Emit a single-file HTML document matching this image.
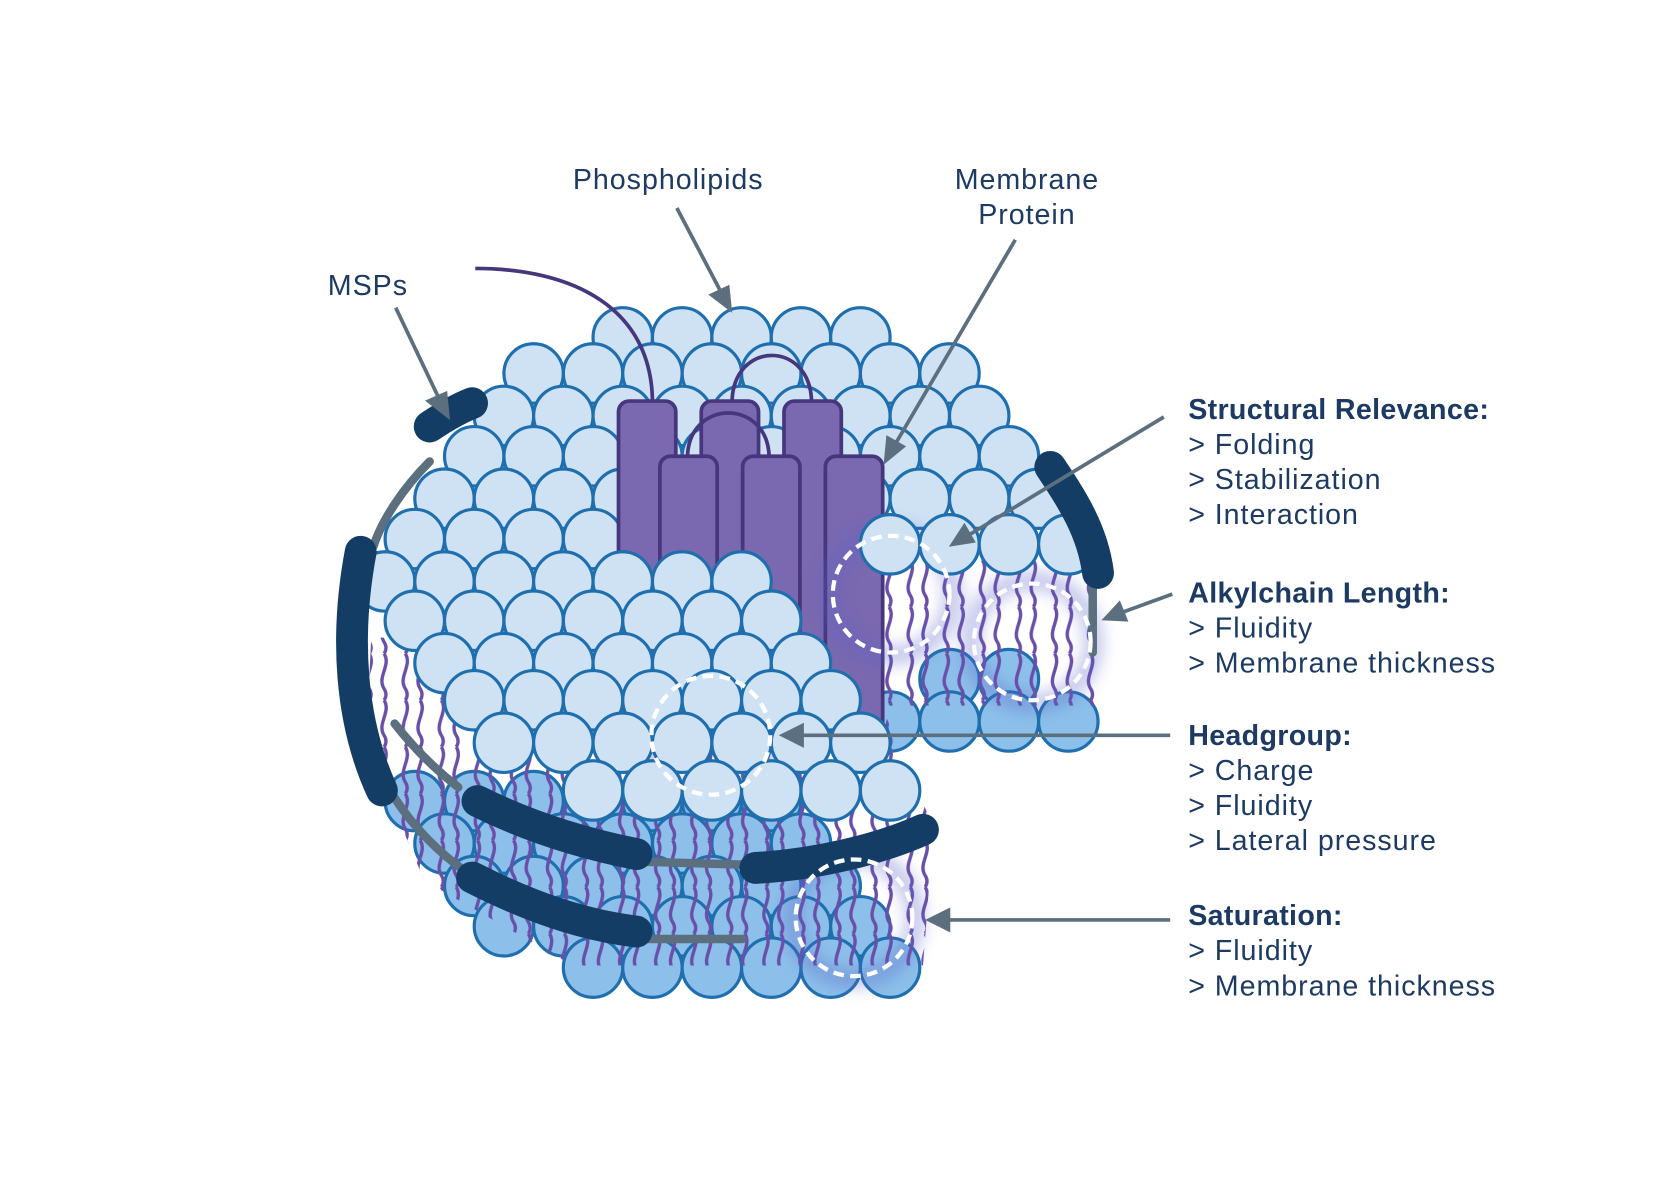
<!DOCTYPE html>
<html><head><meta charset="utf-8"><style>
html,body{margin:0;padding:0;background:#fff;}
svg{display:block;}
text{font-family:"Liberation Sans",sans-serif;fill:#1d3a63;font-size:27px;letter-spacing:0.9px;}
.b{font-weight:bold;letter-spacing:0.3px;}
</style></head><body>
<svg width="1655" height="1182" viewBox="0 0 1560 1114" preserveAspectRatio="none" xmlns="http://www.w3.org/2000/svg">
<defs>
<circle id="L" r="28" fill="#cfe2f4" stroke="#1f6fae" stroke-width="3"/>
<circle id="M" r="28" fill="#8cc0ea" stroke="#1f6fae" stroke-width="3"/>
<pattern id="tails" width="34" height="44" patternUnits="userSpaceOnUse">
<path d="M8,0 C15,11 1,22 8,33 C12,39 8,44 8,44 M22,0 C29,11 15,22 22,33 C26,39 22,44 22,44" fill="none" stroke="#6a4fa8" stroke-width="3.2"/>
</pattern>
<clipPath id="c1"><path d="M350,600 L820,640 L880,780 L870,910 L540,910 L400,830 L345,700 Z"/></clipPath>
<clipPath id="c2"><path d="M830,520 L1035,520 L1035,665 L830,665 Z"/></clipPath>
<filter id="bl" x="-50%" y="-50%" width="200%" height="200%"><feGaussianBlur stdDeviation="8"/></filter>
</defs>
<rect width="1560" height="1114" fill="#fff"/>

<g>
<use href="#M" x="391" y="755"/><use href="#M" x="447" y="755"/><use href="#M" x="503" y="755"/><use href="#M" x="559" y="755"/><use href="#M" x="615" y="755"/><use href="#M" x="671" y="755"/><use href="#M" x="727" y="755"/>
<use href="#M" x="419" y="795"/><use href="#M" x="475" y="795"/><use href="#M" x="531" y="795"/><use href="#M" x="587" y="795"/><use href="#M" x="643" y="795"/><use href="#M" x="699" y="795"/><use href="#M" x="755" y="795"/>
<use href="#M" x="447" y="835"/><use href="#M" x="503" y="835"/><use href="#M" x="559" y="835"/><use href="#M" x="615" y="835"/><use href="#M" x="671" y="835"/><use href="#M" x="727" y="835"/><use href="#M" x="783" y="835"/>
<use href="#M" x="475" y="873"/><use href="#M" x="531" y="873"/><use href="#M" x="587" y="873"/><use href="#M" x="643" y="873"/><use href="#M" x="699" y="873"/><use href="#M" x="755" y="873"/><use href="#M" x="811" y="873"/>
<use href="#M" x="559" y="912"/><use href="#M" x="615" y="912"/><use href="#M" x="671" y="912"/><use href="#M" x="727" y="912"/><use href="#M" x="783" y="912"/><use href="#M" x="839" y="912"/>
</g>
<use href="#M" x="895" y="640"/><use href="#M" x="951" y="640"/>
<use href="#M" x="839" y="680"/><use href="#M" x="895" y="680"/><use href="#M" x="951" y="680"/><use href="#M" x="1007" y="680"/>
<rect x="330" y="590" width="560" height="330" fill="url(#tails)" clip-path="url(#c1)"/>
<rect x="820" y="520" width="220" height="150" fill="url(#tails)" clip-path="url(#c2)"/>

<g>
<use href="#L" x="587" y="318"/><use href="#L" x="643" y="318"/><use href="#L" x="699" y="318"/><use href="#L" x="755" y="318"/><use href="#L" x="811" y="318"/>
<use href="#L" x="503" y="352"/><use href="#L" x="559" y="352"/><use href="#L" x="615" y="352"/><use href="#L" x="671" y="352"/><use href="#L" x="727" y="352"/><use href="#L" x="783" y="352"/><use href="#L" x="839" y="352"/><use href="#L" x="895" y="352"/>
<use href="#L" x="475" y="392"/><use href="#L" x="531" y="392"/><use href="#L" x="587" y="392"/><use href="#L" x="643" y="392"/><use href="#L" x="699" y="392"/><use href="#L" x="755" y="392"/><use href="#L" x="811" y="392"/><use href="#L" x="867" y="392"/><use href="#L" x="923" y="392"/>
<use href="#L" x="447" y="430"/><use href="#L" x="503" y="430"/><use href="#L" x="559" y="430"/><use href="#L" x="615" y="430"/><use href="#L" x="671" y="430"/><use href="#L" x="727" y="430"/><use href="#L" x="783" y="430"/><use href="#L" x="839" y="430"/><use href="#L" x="895" y="430"/><use href="#L" x="951" y="430"/>
<use href="#L" x="419" y="470"/><use href="#L" x="475" y="470"/><use href="#L" x="531" y="470"/><use href="#L" x="587" y="470"/><use href="#L" x="643" y="470"/><use href="#L" x="699" y="470"/><use href="#L" x="755" y="470"/><use href="#L" x="811" y="470"/><use href="#L" x="867" y="470"/><use href="#L" x="923" y="470"/><use href="#L" x="979" y="470"/>
<use href="#L" x="391" y="508"/><use href="#L" x="447" y="508"/><use href="#L" x="503" y="508"/><use href="#L" x="559" y="508"/><use href="#L" x="615" y="508"/><use href="#L" x="671" y="508"/><use href="#L" x="727" y="508"/>
</g>

<g fill="#7a68b0" stroke="#46367c" stroke-width="3.5">
<path d="M615,380 C615,290 540,253 448,253" fill="none"/>
<path d="M690,380 C690,320 765,320 765,380" fill="none"/>
<rect x="583" y="378" width="54" height="300" rx="10"/>
<rect x="661" y="378" width="54" height="300" rx="10"/>
<rect x="739" y="378" width="54" height="300" rx="10"/>
<path d="M648,432 C648,375 725,375 725,432" fill="none"/>
<rect x="622" y="430" width="54" height="260" rx="10"/>
<rect x="700" y="430" width="54" height="260" rx="10"/>
<rect x="778" y="430" width="54" height="260" rx="10"/>
</g>

<g fill="none" stroke="#5a62c8" stroke-width="14" opacity="0.45" filter="url(#bl)">
<circle cx="840" cy="560" r="58"/><circle cx="973" cy="605" r="58"/><circle cx="670" cy="693" r="60"/><circle cx="805" cy="865" r="58"/>
</g>

<use href="#L" x="839" y="513"/><use href="#L" x="895" y="513"/><use href="#L" x="951" y="513"/><use href="#L" x="1007" y="513"/>

<g>
<use href="#L" x="363" y="548"/><use href="#L" x="419" y="548"/><use href="#L" x="475" y="548"/><use href="#L" x="531" y="548"/><use href="#L" x="587" y="548"/><use href="#L" x="643" y="548"/><use href="#L" x="699" y="548"/>
<use href="#L" x="391" y="585"/><use href="#L" x="447" y="585"/><use href="#L" x="503" y="585"/><use href="#L" x="559" y="585"/><use href="#L" x="615" y="585"/><use href="#L" x="671" y="585"/><use href="#L" x="727" y="585"/>
<use href="#L" x="419" y="625"/><use href="#L" x="475" y="625"/><use href="#L" x="531" y="625"/><use href="#L" x="587" y="625"/><use href="#L" x="643" y="625"/><use href="#L" x="699" y="625"/><use href="#L" x="755" y="625"/>
<use href="#L" x="447" y="660"/><use href="#L" x="503" y="660"/><use href="#L" x="559" y="660"/><use href="#L" x="615" y="660"/><use href="#L" x="671" y="660"/><use href="#L" x="727" y="660"/><use href="#L" x="783" y="660"/>
<use href="#L" x="475" y="700"/><use href="#L" x="531" y="700"/><use href="#L" x="587" y="700"/><use href="#L" x="643" y="700"/><use href="#L" x="699" y="700"/><use href="#L" x="755" y="700"/><use href="#L" x="811" y="700"/>
<use href="#L" x="559" y="745"/><use href="#L" x="615" y="745"/><use href="#L" x="671" y="745"/><use href="#L" x="727" y="745"/><use href="#L" x="783" y="745"/><use href="#L" x="839" y="745"/>
</g>

<g fill="none" stroke-linecap="round">
<g stroke="#5b6f7f" stroke-width="8">
<path d="M405,435 C380,460 360,490 352,515"/>
<path d="M372,682 C390,705 410,725 432,742"/>
<path d="M372,752 C390,780 415,805 440,822"/>
<path d="M600,812 L705,815"/>
<path d="M605,885 L700,885"/>
<path d="M1030,540 L1030,615"/>
</g>
<g stroke="#143d66" stroke-width="30">
<path d="M405,402 C420,392 432,385 445,380"/>
<path d="M340,520 C325,600 330,680 360,745"/>
<path d="M450,755 C500,780 550,795 600,805"/>
<path d="M445,827 C500,855 550,872 600,878"/>
<path d="M712,818 C770,815 830,800 870,782"/>
<path d="M990,440 C1010,470 1030,500 1035,540"/>
</g>
</g>

<g fill="none" stroke="#fff" stroke-width="4" stroke-dasharray="10,6">
<circle cx="840" cy="560" r="55"/><circle cx="973" cy="605" r="55"/><circle cx="670" cy="693" r="56"/><circle cx="805" cy="865" r="55"/>
</g>

<g stroke="#5b6f7f" stroke-width="3.5" fill="#5b6f7f">
<line x1="373" y1="290" x2="414" y2="376"/><path d="M422,392 L404,378 L420,371 Z"/>
<line x1="638" y1="196" x2="680" y2="276"/><path d="M688,291 L671,278 L686,271 Z"/>
<line x1="957" y1="226" x2="843" y2="420"/><path d="M835,434 L837,413 L851,421 Z"/>
<line x1="1097" y1="393" x2="912" y2="505"/><path d="M898,513 L909,496 L917,510 Z"/>
<line x1="1105" y1="560" x2="1058" y2="577"/><path d="M1042,583 L1055,569 L1061,584 Z"/>
<line x1="1103" y1="693" x2="755" y2="693"/><path d="M738,693 L756,684 L756,702 Z"/>
<line x1="1103" y1="867" x2="893" y2="867"/><path d="M876,867 L894,858 L894,876 Z"/>
</g>

<text x="540" y="178">Phospholipids</text>
<text x="968" y="178" text-anchor="middle">Membrane</text>
<text x="968" y="211" text-anchor="middle">Protein</text>
<text x="309" y="278">MSPs</text>
<text x="1120" y="395" class="b">Structural Relevance:</text>
<text x="1120" y="428">&gt; Folding</text>
<text x="1120" y="461">&gt; Stabilization</text>
<text x="1120" y="494">&gt; Interaction</text>
<text x="1120" y="568" class="b">Alkylchain Length:</text>
<text x="1120" y="601">&gt; Fluidity</text>
<text x="1120" y="634">&gt; Membrane thickness</text>
<text x="1120" y="702" class="b">Headgroup:</text>
<text x="1120" y="735">&gt; Charge</text>
<text x="1120" y="768">&gt; Fluidity</text>
<text x="1120" y="801">&gt; Lateral pressure</text>
<text x="1120" y="872" class="b">Saturation:</text>
<text x="1120" y="905">&gt; Fluidity</text>
<text x="1120" y="938">&gt; Membrane thickness</text>
</svg>
</body></html>
